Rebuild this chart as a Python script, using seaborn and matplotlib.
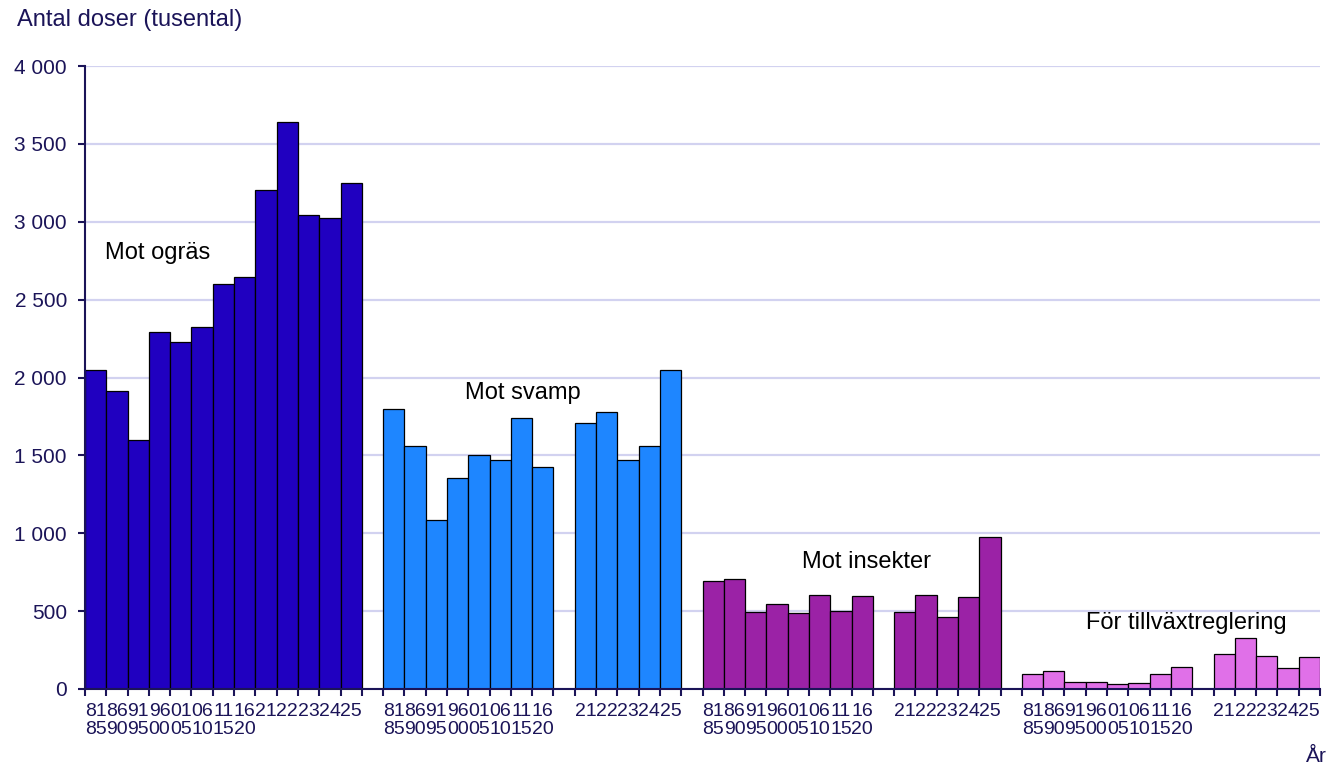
import pandas as pd
import matplotlib.pyplot as plt
import seaborn as sns

# period labels (five-year averages, then single years)
periods = ['81\n85', '86\n90', '91\n95', '96\n00', '01\n05', '06\n10', '11\n15', '16\n20']
years = ['21', '22', '23', '24', '25']

groups = ['Mot ogräs', 'Mot svamp', 'Mot insekter', 'För tillväxtreglering']
colors = ['#2000C0', '#1E86FF', '#9B22A6', '#E070E8']

# sold doses, thousands
ograss = [2045, 1912, 1597, 2291, 2231, 2323, 2601, 2644, 3203, 3642, 3044, 3027, 3246]
svamp = [1800, 1559, 1083, 1353, 1505, 1469, 1743, 1424, 1706, 1781, 1469, 1563, 2045]
insekter = [696, 707, 492, 546, 486, 602, 499, 599, 492, 606, 460, 589, 974]
tillvaxt = [96, 116, 47, 43, 32, 36, 94, 141, 227, 328, 214, 135, 207]

values = [ograss, svamp, insekter, tillvaxt]
# first group has no gap between periods and single years
split_gap = [False, True, True, True]

text_color = '#1B1458'


def build_frame():
    rows = []
    slot = 0
    for g, vals, gap in zip(groups, values, split_gap):
        labels = periods + years
        for i, (lab, v) in enumerate(zip(labels, vals)):
            if gap and i == len(periods):
                slot += 1
            rows.append({'group': g, 'label': lab, 'pos': slot + 0.5, 'value': v})
            slot += 1
        slot += 1
    return pd.DataFrame(rows), slot - 1


def main():
    df, n_slots = build_frame()

    sns.set_style('white')
    plt.rcParams['font.family'] = ['Liberation Sans', 'DejaVu Sans']

    fig = plt.figure(figsize=(13.3, 7.64), dpi=100)
    ax = fig.add_axes([85 / 1330, 75 / 764, 1235 / 1330, 623 / 764])

    sns.barplot(data=df, x='pos', y='value', hue='group', hue_order=groups,
                palette=colors, native_scale=True, width=1, dodge=False,
                saturation=1, errorbar=None, edgecolor='black', linewidth=0.9,
                legend=False, ax=ax)

    ax.set_xlim(0, n_slots)
    ax.set_ylim(0, 4000)
    ax.set_yticks(range(0, 4001, 500))
    ax.set_yticklabels([f'{v:,}'.replace(',', ' ') for v in range(0, 4001, 500)])

    ax.set_xticks(range(n_slots + 1))
    ax.set_xticklabels([])
    ax.set_xticks(df['pos'], minor=True)
    ax.set_xticklabels(df['label'], minor=True)
    for t in ax.get_xticklabels(minor=True):
        t.set_linespacing(1.05)

    ax.tick_params(axis='x', which='major', bottom=True, length=5, width=1.5,
                   color=text_color, direction='out')
    ax.tick_params(axis='x', which='minor', bottom=True, length=0, pad=10,
                   labelsize=14, labelcolor=text_color)
    ax.tick_params(axis='y', left=True, length=5, width=1.5, color=text_color, pad=8,
                   labelsize=15, labelcolor=text_color)

    ax.set_xlabel('')
    ax.set_ylabel('')
    ax.yaxis.grid(True, color='#D2D2F0', linewidth=1.6)
    ax.xaxis.grid(False)
    ax.set_axisbelow(True)
    sns.despine(ax=ax)
    for s in ['left', 'bottom']:
        ax.spines[s].set_color(text_color)
        ax.spines[s].set_linewidth(1.5)

    # group names
    ax.text(0.95, 2800, 'Mot ogräs', fontsize=17, ha='left', va='center', color='black')
    ax.text(20.57, 1900, 'Mot svamp', fontsize=17, ha='center', va='center', color='black')
    ax.text(36.7, 817, 'Mot insekter', fontsize=17, ha='center', va='center', color='black')
    ax.text(51.73, 422, 'För tillväxtreglering', fontsize=17, ha='center', va='center', color='black')

    fig.text(17 / 1330, 1 - 20 / 764, 'Antal doser (tusental)', fontsize=17,
             ha='left', va='center', color=text_color)
    fig.text(1327 / 1330, 1 - 757 / 764, 'År', fontsize=15, ha='right', va='center',
             color=text_color)

    fig.savefig('out.png', dpi=100)


if __name__ == '__main__':
    main()
